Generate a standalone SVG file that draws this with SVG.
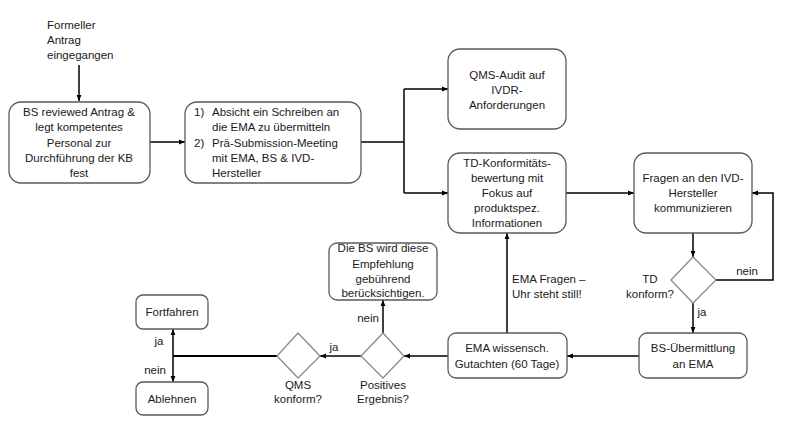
<svg xmlns="http://www.w3.org/2000/svg" width="800" height="436" viewBox="0 0 800 436">
<style>
.box{fill:#fff;stroke:#5a5a5a;stroke-width:1.3}
.dia{fill:#fff;stroke:#8a8a8a;stroke-width:1.3}
.ln{fill:none;stroke:#000;stroke-width:1.5}
.thick{fill:none;stroke:#000;stroke-width:2.2}
text{font-family:"Liberation Sans",Arial,sans-serif;font-size:11.5px;fill:#1a1a1a}
.c{text-anchor:middle}
</style>
<defs>
<marker id="ah" viewBox="0 0 10 10" refX="10" refY="5" markerWidth="4" markerHeight="4" orient="auto">
<path d="M0,1 L10,5 L0,9 z" fill="#000"/>
</marker>
</defs>
<rect width="800" height="436" fill="#fff"/>
<g id="connectors">
<line class="ln" x1="79" y1="65" x2="79" y2="101" marker-end="url(#ah)"/>
<line class="ln" x1="150" y1="142" x2="185" y2="142" marker-end="url(#ah)"/>
<polyline class="ln" points="361,142 404,142"/>
<line class="ln" x1="404" y1="89" x2="404" y2="193"/>
<line class="ln" x1="404" y1="89" x2="448" y2="89" marker-end="url(#ah)"/>
<line class="ln" x1="404" y1="193" x2="448" y2="193" marker-end="url(#ah)"/>
<line class="ln" x1="566" y1="193" x2="634" y2="193" marker-end="url(#ah)"/>
<line class="ln" x1="693" y1="233" x2="693" y2="257" marker-end="url(#ah)"/>
<polyline class="ln" points="716,280 773,280 773,193 752,193" marker-end="url(#ah)"/>
<line class="ln" x1="693" y1="303" x2="693" y2="333" marker-end="url(#ah)"/>
<line class="ln" x1="639" y1="356" x2="567" y2="356" marker-end="url(#ah)"/>
<line class="ln" x1="507" y1="333" x2="507" y2="233" marker-end="url(#ah)"/>
<line class="ln" x1="448" y1="356" x2="404" y2="356" marker-end="url(#ah)"/>
<line class="ln" x1="383" y1="333" x2="383" y2="300" marker-end="url(#ah)"/>
<line class="ln" x1="361" y1="356" x2="320" y2="356" marker-end="url(#ah)"/>
<line class="thick" x1="277" y1="356" x2="173" y2="356"/>
<line class="ln" x1="173" y1="356" x2="173" y2="329" marker-end="url(#ah)"/>
<line class="ln" x1="173" y1="356" x2="173" y2="382" marker-end="url(#ah)"/>
<text x="47" y="29">Formeller</text>
<text x="47" y="44">Antrag</text>
<text x="47" y="59">eingegangen</text>
<text x="512" y="283">EMA Fragen –</text>
<text x="512" y="298">Uhr steht still!</text>
<text class="c" x="650" y="283">TD</text>
<text class="c" x="650" y="298">konform?</text>
<text class="c" x="747" y="275">nein</text>
<text class="c" x="702" y="316">ja</text>
<text class="c" x="368" y="322">nein</text>
<text class="c" x="334" y="351">ja</text>
<text class="c" x="159" y="345">ja</text>
<text class="c" x="155" y="374">nein</text>
</g>
<g id="n1">
<rect class="box" x="9" y="102" width="141" height="81" rx="12"/>
<text class="c" x="79" y="116">BS reviewed Antrag &amp;</text>
<text class="c" x="79" y="131">legt kompetentes</text>
<text class="c" x="79" y="147">Personal zur</text>
<text class="c" x="79" y="162">Durchführung der KB</text>
<text class="c" x="79" y="177">fest</text>
</g>
<g id="n2">
<rect class="box" x="185" y="102" width="176" height="81" rx="12"/>
<text x="194" y="116">1)</text>
<text x="212" y="116">Absicht ein Schreiben an</text>
<text x="212" y="131">die EMA zu übermitteln</text>
<text x="194" y="147">2)</text>
<text x="212" y="147">Prä-Submission-Meeting</text>
<text x="212" y="162">mit EMA, BS &amp; IVD-</text>
<text x="212" y="177">Hersteller</text>
</g>
<g id="n3">
<rect class="box" x="448" y="49" width="118" height="80" rx="12"/>
<text class="c" x="507" y="79">QMS-Audit auf</text>
<text class="c" x="507" y="94">IVDR-</text>
<text class="c" x="507" y="109">Anforderungen</text>
</g>
<g id="n4">
<rect class="box" x="448" y="153" width="118" height="80" rx="12"/>
<text class="c" x="507" y="167">TD-Konformitäts-</text>
<text class="c" x="507" y="182">bewertung mit</text>
<text class="c" x="507" y="197">Fokus auf</text>
<text class="c" x="507" y="212">produktspez.</text>
<text class="c" x="507" y="227">Informationen</text>
</g>
<g id="n5">
<rect class="box" x="634" y="153" width="118" height="80" rx="12"/>
<text class="c" x="693" y="182">Fragen an den IVD-</text>
<text class="c" x="693" y="197">Hersteller</text>
<text class="c" x="693" y="212">kommunizieren</text>
</g>
<g id="d1">
<polygon class="dia" points="693,257 716,280 693,303 671,280"/>
</g>
<g id="n6">
<rect class="box" x="639" y="333" width="108" height="45" rx="8"/>
<text class="c" x="693" y="352">BS-Übermittlung</text>
<text class="c" x="693" y="368">an EMA</text>
</g>
<g id="n7">
<rect class="box" x="448" y="333" width="119" height="45" rx="8"/>
<text class="c" x="507" y="352">EMA wissensch.</text>
<text class="c" x="507" y="368">Gutachten (60 Tage)</text>
</g>
<g id="d2">
<polygon class="dia" points="383,333 404,356 383,378 361,356"/>
<text class="c" x="383" y="389">Positives</text>
<text class="c" x="383" y="403">Ergebnis?</text>
</g>
<g id="n8">
<rect class="box" x="329" y="243" width="108" height="57" rx="8"/>
<text class="c" x="383" y="252">Die BS wird diese</text>
<text class="c" x="383" y="268">Empfehlung</text>
<text class="c" x="383" y="283">gebührend</text>
<text class="c" x="383" y="297">berücksichtigen.</text>
</g>
<g id="d3">
<polygon class="dia" points="298,333 320,356 298,378 277,356"/>
<text class="c" x="298" y="389">QMS</text>
<text class="c" x="298" y="403">konform?</text>
</g>
<g id="n9">
<rect class="box" x="136" y="295" width="72" height="34" rx="7"/>
<text class="c" x="172" y="316">Fortfahren</text>
</g>
<g id="n10">
<rect class="box" x="136" y="382" width="72" height="33" rx="7"/>
<text class="c" x="172" y="403">Ablehnen</text>
</g>
</svg>
